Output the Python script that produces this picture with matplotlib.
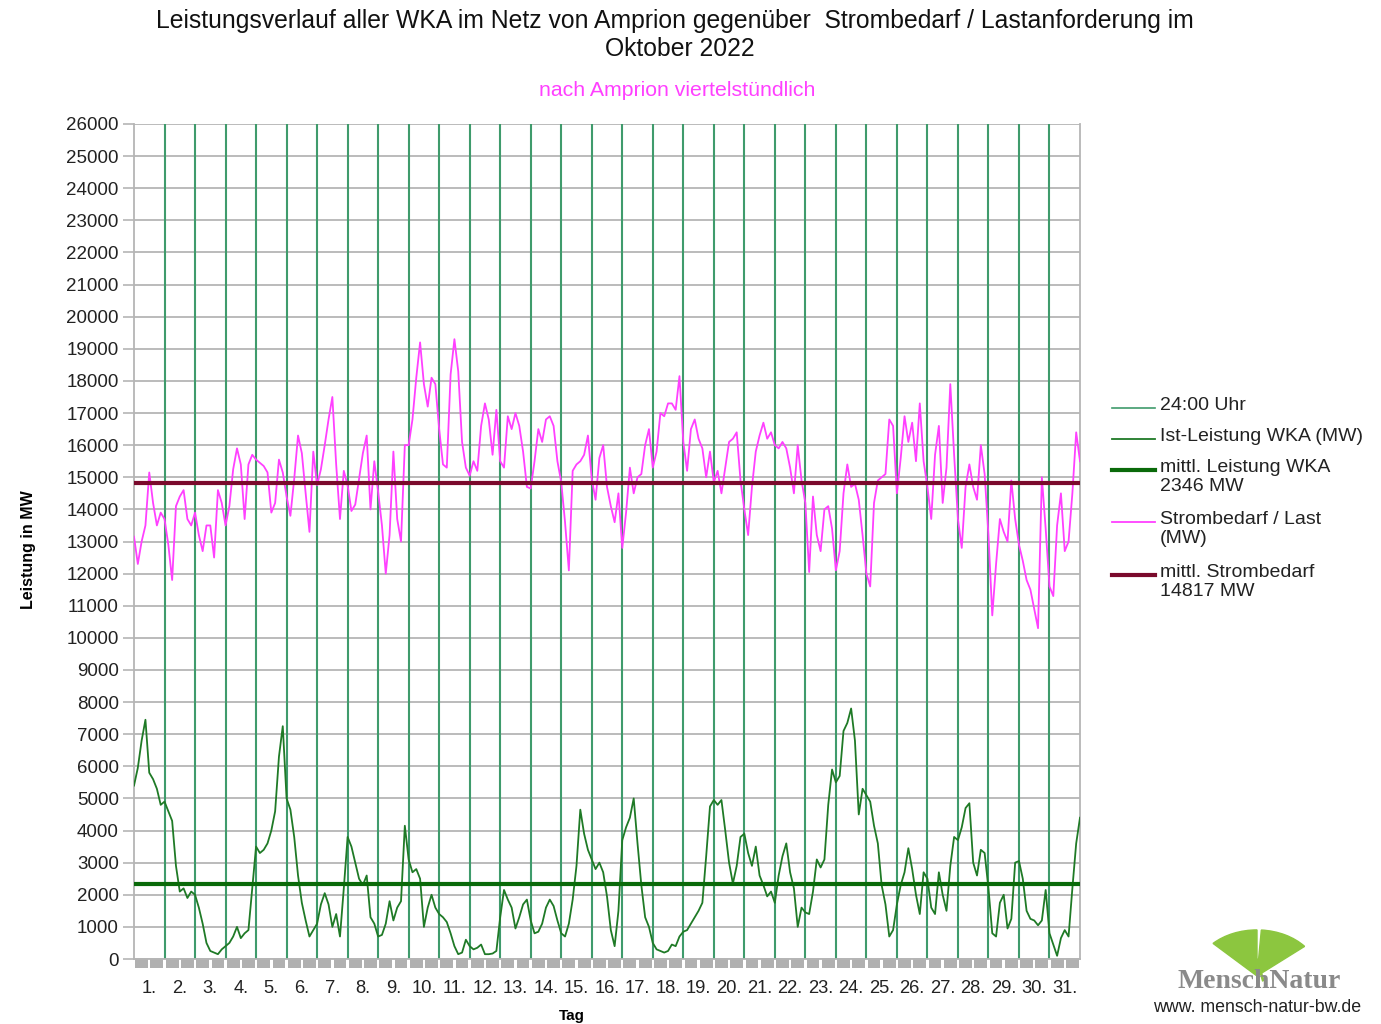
import numpy as np
import matplotlib
matplotlib.use("Agg")
import matplotlib.pyplot as plt
from matplotlib.lines import Line2D
from matplotlib.patches import Wedge, Rectangle
import matplotlib.transforms as mtransforms

plt.rcParams['font.family'] = ['Liberation Sans', 'DejaVu Sans']

samples_per_day = 8

last_mw = [
    13150, 12300, 13000, 13500, 15150, 14200, 13500, 13900,   # 1.
    13700, 12900, 11800, 14100, 14400, 14600, 13700, 13500,   # 2.
    13900, 13200, 12700, 13500, 13500, 12500, 14600, 14200,   # 3.
    13500, 14100, 15250, 15900, 15400, 13700, 15400, 15700,   # 4.
    15550, 15450, 15350, 15150, 13900, 14200, 15550, 15150,   # 5.
    14400, 13800, 14950, 16300, 15750, 14500, 13300, 15800,   # 6.
    14750, 15250, 16000, 16800, 17500, 15400, 13700, 15200,   # 7.
    14750, 13950, 14150, 14950, 15750, 16300, 14000, 15500,   # 8.
    14550, 13500, 12000, 13200, 15800, 13700, 13000, 16000,   # 9.
    16000, 16800, 18100, 19200, 17900, 17200, 18100, 17900,   # 10.
    16500, 15400, 15300, 18200, 19300, 18300, 16100, 15300,   # 11.
    15050, 15500, 15200, 16600, 17300, 16800, 15700, 17100,   # 12.
    15500, 15300, 16900, 16500, 17000, 16600, 15800, 14700,   # 13.
    14650, 15500, 16500, 16100, 16800, 16900, 16600, 15500,   # 14.
    14850, 13600, 12100, 15200, 15400, 15500, 15700, 16300,   # 15.
    14950, 14300, 15600, 16000, 14700, 14100, 13600, 14500,   # 16.
    12800, 13900, 15300, 14500, 15000, 15100, 16000, 16500,   # 17.
    15300, 15800, 17000, 16900, 17300, 17300, 17100, 18150,   # 18.
    16100, 15200, 16500, 16800, 16200, 15900, 15000, 15800,   # 19.
    14850, 15200, 14500, 15300, 16100, 16200, 16400, 14900,   # 20.
    14000, 13200, 14700, 15800, 16300, 16700, 16200, 16400,   # 21.
    16000, 15900, 16100, 15900, 15300, 14500, 16000, 14900,   # 22.
    14200, 12050, 14400, 13200, 12700, 14000, 14100, 13400,   # 23.
    12100, 12700, 14500, 15400, 14700, 14800, 14300, 13200,   # 24.
    12000, 11600, 14200, 14900, 15000, 15100, 16800, 16600,   # 25.
    14500, 15600, 16900, 16100, 16700, 15500, 17300, 15500,   # 26.
    14700, 13700, 15700, 16600, 14200, 15300, 17900, 15700,   # 27.
    13700, 12800, 14700, 15400, 14700, 14300, 16000, 15100,   # 28.
    13200, 10700, 12300, 13700, 13300, 13000, 14900, 13700,   # 29.
    12900, 12400, 11800, 11500, 10900, 10300, 15000, 13400,   # 30.
    11600, 11300, 13500, 14500, 12700, 13000, 14500, 16400,   # 31.
    15500,
]

wka_mw = [
    5400, 5950, 6800, 7450, 5800, 5600, 5300, 4800,   # 1.
    4900, 4600, 4300, 2900, 2100, 2200, 1900, 2100,   # 2.
    2000, 1600, 1100, 500, 250, 200, 150, 300,        # 3.
    400, 500, 700, 1000, 650, 800, 900, 2200,         # 4.
    3500, 3300, 3400, 3600, 4000, 4600, 6300, 7250,   # 5.
    5000, 4650, 3800, 2600, 1750, 1200, 700, 900,     # 6.
    1100, 1700, 2050, 1700, 1000, 1400, 700, 2200,    # 7.
    3800, 3500, 3000, 2500, 2300, 2600, 1300, 1100,   # 8.
    700, 750, 1100, 1800, 1200, 1600, 1800, 4150,     # 9.
    3100, 2700, 2800, 2500, 1000, 1600, 2000, 1600,   # 10.
    1400, 1300, 1150, 800, 400, 150, 200, 600,        # 11.
    400, 300, 350, 450, 150, 150, 170, 250,           # 12.
    1300, 2150, 1850, 1600, 950, 1300, 1700, 1850,    # 13.
    1200, 800, 850, 1100, 1600, 1850, 1650, 1200,     # 14.
    800, 700, 1100, 1850, 2900, 4650, 3900, 3400,     # 15.
    3100, 2800, 3000, 2700, 1950, 900, 400, 1500,     # 16.
    3700, 4100, 4400, 5000, 3600, 2300, 1300, 1000,   # 17.
    500, 300, 250, 200, 250, 450, 400, 700,           # 18.
    850, 900, 1100, 1300, 1500, 1750, 3200, 4750,     # 19.
    4950, 4800, 4950, 4000, 3000, 2350, 2900, 3800,   # 20.
    3900, 3300, 2900, 3500, 2600, 2300, 1950, 2100,   # 21.
    1750, 2600, 3200, 3600, 2700, 2200, 1000, 1600,   # 22.
    1450, 1400, 2100, 3100, 2850, 3100, 4800, 5900,   # 23.
    5500, 5700, 7100, 7350, 7800, 6800, 4500, 5300,   # 24.
    5100, 4900, 4150, 3600, 2300, 1700, 700, 900,     # 25.
    1700, 2300, 2700, 3450, 2800, 2000, 1400, 2700,   # 26.
    2500, 1600, 1400, 2700, 2000, 1500, 2900, 3800,   # 27.
    3700, 4100, 4700, 4850, 3000, 2600, 3400, 3300,   # 28.
    2200, 800, 700, 1750, 2000, 950, 1250, 3000,      # 29.
    3050, 2500, 1500, 1250, 1200, 1050, 1200, 2150,   # 30.
    800, 450, 100, 650, 900, 700, 2200, 3600,         # 31.
    4400,
]

mittel_wka = 2346
mittel_last = 14817
tage = [f"{d}." for d in range(1, 32)]

legend_labels = ["24:00 Uhr", "Ist-Leistung WKA (MW)", "mittl. Leistung WKA\n2346 MW",
                 "Strombedarf / Last\n(MW)", "mittl. Strombedarf\n14817 MW"]

c_tag = '#3f9b6c'
c_wka = '#1f7a26'
c_wka_m = '#0a6a0a'
c_last = '#ff40ff'
c_last_m = '#7a0a2c'
c_grid = '#b5b5b5'

fig = plt.figure(figsize=(13.81, 10.24), dpi=100)
ax = fig.add_axes([134/1381, 1 - 959/1024, 946/1381, 835/1024])

t_last = np.arange(len(last_mw)) / samples_per_day
t_wka = np.arange(len(wka_mw)) / samples_per_day

ax.set_xlim(0, 31)
ax.set_ylim(0, 26000)

# horizontale Gitterlinien
ax.set_yticks(np.arange(0, 26001, 1000))
ax.yaxis.grid(True, color=c_grid, lw=1.3, zorder=0)
ax.set_axisbelow(True)

# Tageslinien 24:00 Uhr
ax.vlines(np.arange(1, 31), 0, 26000, color=c_tag, lw=1.5, zorder=1)

ax.plot(t_wka, wka_mw, color=c_wka, lw=1.3, zorder=3)
ax.plot(t_last, last_mw, color=c_last, lw=1.3, zorder=3)
ax.axhline(mittel_wka, color=c_wka_m, lw=3, zorder=4)
ax.axhline(mittel_last, color=c_last_m, lw=3, zorder=4)

for s in ['top', 'right']:
    ax.spines[s].set_visible(False)
ax.spines['left'].set_color(c_grid)
ax.spines['bottom'].set_color(c_grid)
ax.spines['left'].set_linewidth(1.3)
ax.spines['bottom'].set_linewidth(1.3)
ax.plot([1, 1], [0, 1], transform=ax.transAxes, color=c_grid, lw=1.3, clip_on=False)

ax.tick_params(axis='y', length=8, width=1.2, color=c_grid, labelsize=13.5, labelcolor='#222222', pad=3)
ax.set_xticks(np.arange(31) + 0.5)
ax.set_xticklabels(tage)
ax.tick_params(axis='x', length=0, labelsize=13.2, labelcolor='#222222', pad=15)

# graue Markierungen unter der x-Achse (halbe Tage)
trans = mtransforms.blended_transform_factory(ax.transData, ax.transAxes)
for h in np.arange(0, 31, 0.5):
    ax.add_patch(Rectangle((h + 0.04, -0.011), 0.42, 0.011, transform=trans,
                           color='#b0b0b0', lw=0, clip_on=False))

ax.set_ylabel("Leistung in MW", fontsize=11.5, fontweight='bold')
ax.yaxis.set_label_coords(-0.104, 0.49)
ax.set_xlabel("Tag", fontsize=11, fontweight='bold')
ax.xaxis.set_label_coords(0.463, -0.06)

fig.text(675/1381, 1 - 21/1024, "Leistungsverlauf aller WKA im Netz von Amprion gegenüber  Strombedarf / Lastanforderung im",
         ha='center', va='center', fontsize=17.8, color='#111111')
fig.text(680/1381, 1 - 49/1024, "Oktober 2022", ha='center', va='center', fontsize=17.8,
         color='#111111')
fig.text(677/1381, 1 - 91/1024, "nach Amprion viertelstündlich", ha='center', va='center',
         fontsize=15.3, color=c_last)

# Legende
leg_styles = [(c_tag, 1.2), (c_wka, 1.3), (c_wka_m, 3.0), (c_last, 1.3), (c_last_m, 3.0)]
leg_y = [408, 439, 470, 522, 575]
for (col, lw), y, lab in zip(leg_styles, leg_y, legend_labels):
    yf = 1 - y / 1024
    fig.add_artist(Line2D([1112/1381, 1155/1381], [yf, yf], color=col, lw=lw))
    fig.text(1160/1381, yf + 11/1024, lab, ha='left', va='top', fontsize=14,
             color='#222222', linespacing=1.12)

# Logo (Ginkgoblatt)
for th1, th2 in [(40, 86), (90, 135)]:
    fig.add_artist(Wedge((1257/1381, 1 - 976/1024), 0.045, th1, th2, color='#8cc63f',
                         transform=fig.transFigure))
fig.add_artist(Line2D([1257/1381, 1263/1381], [1 - 960/1024, 1 - 980/1024], color='#8cc63f', lw=2))
fig.text(1259/1381, 1 - 982/1024, "MenschNatur", ha='center', va='center', fontsize=20,
         fontweight='bold', family=['Liberation Serif', 'DejaVu Serif'], color='#8a8a8a')
fig.text(1257/1381, 1 - 1008/1024, "www. mensch-natur-bw.de", ha='center', va='center',
         fontsize=12.8, color='#222222')

fig.savefig("out.png", dpi=100)
